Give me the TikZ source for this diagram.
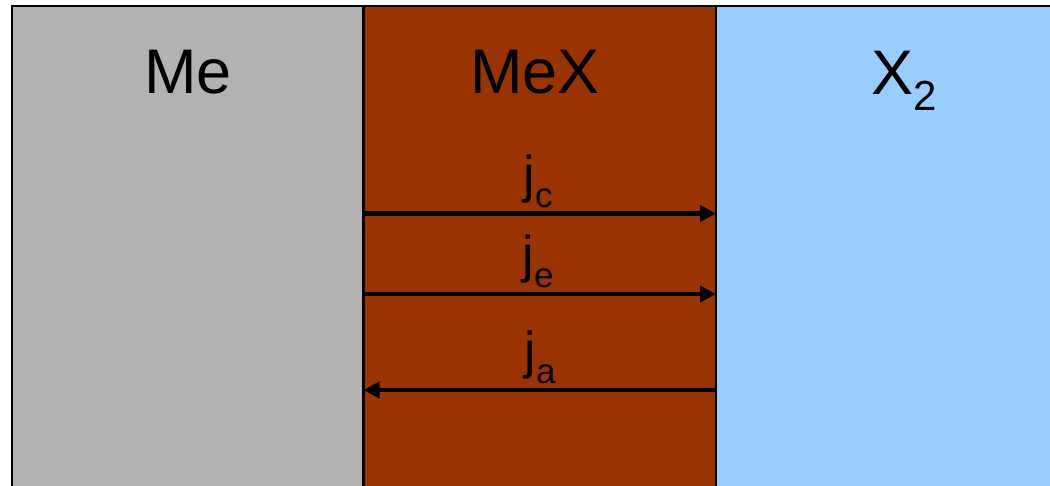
\documentclass[tikz,border=0pt]{standalone}
\usepackage{fontspec}
\setmainfont{Liberation Sans}
\usetikzlibrary{arrows.meta}
\definecolor{megray}{RGB}{178,178,178}
\definecolor{mexbrown}{RGB}{153,51,0}
\definecolor{xblue}{RGB}{153,204,255}
\tikzset{
  region/.style={draw=none},
  border/.style={line width=2.6pt, black},
  title/.style={inner sep=0pt, anchor=base, font=\fontsize{63}{63}\selectfont},
  flux/.style={line width=4.2pt, -{Triangle[length=16pt,width=16pt]}},
  fluxlabel/.style={inner sep=0pt, anchor=base, font=\fontsize{52}{52}\selectfont}
}
\newcommand{\jsub}[1]{j\raisebox{-15pt}{\fontsize{35}{35}\selectfont #1}}
\begin{document}
\begin{tikzpicture}[x=1pt,y=-1pt]
\useasboundingbox (0,0) rectangle (1050,485);
\clip (0,0) rectangle (1050,485);
% regions
\fill[megray] (12,6) rectangle (363.5,500);
\fill[mexbrown] (363.5,6) rectangle (716,500);
\fill[xblue] (716,6) rectangle (1060,500);
% borders
\draw[border] (12,6) -- (12,500);
\draw[border] (10.7,6) -- (1060,6);
\draw[border] (363.5,6) -- (363.5,500);
\draw[border] (716,6) -- (716,500);
% titles
\node[title] (me) at (188,93) {Me};
\node[title] (mex) at (535,93) {MeX};
\node[title, anchor=base west] (x2) at (871,94) {X\raisebox{-16pt}{\fontsize{42}{42}\selectfont 2}};
% flux coordinates
\coordinate (cL) at (363.5,213.5);
\coordinate (cR) at (716,213.5);
\coordinate (eL) at (363.5,294);
\coordinate (eR) at (716,294);
\coordinate (aL) at (363.5,390);
\coordinate (aR) at (716,390);
\draw[flux] (cL) -- (cR);
\draw[flux] (eL) -- (eR);
\draw[flux] (aR) -- (aL);
% labels
\node[fluxlabel] (jc) at (538,192) {\jsub{c}};
\node[fluxlabel] (je) at (538,272) {\jsub{e}};
\node[fluxlabel] (ja) at (540,368) {\jsub{a}};
\end{tikzpicture}
\end{document}
